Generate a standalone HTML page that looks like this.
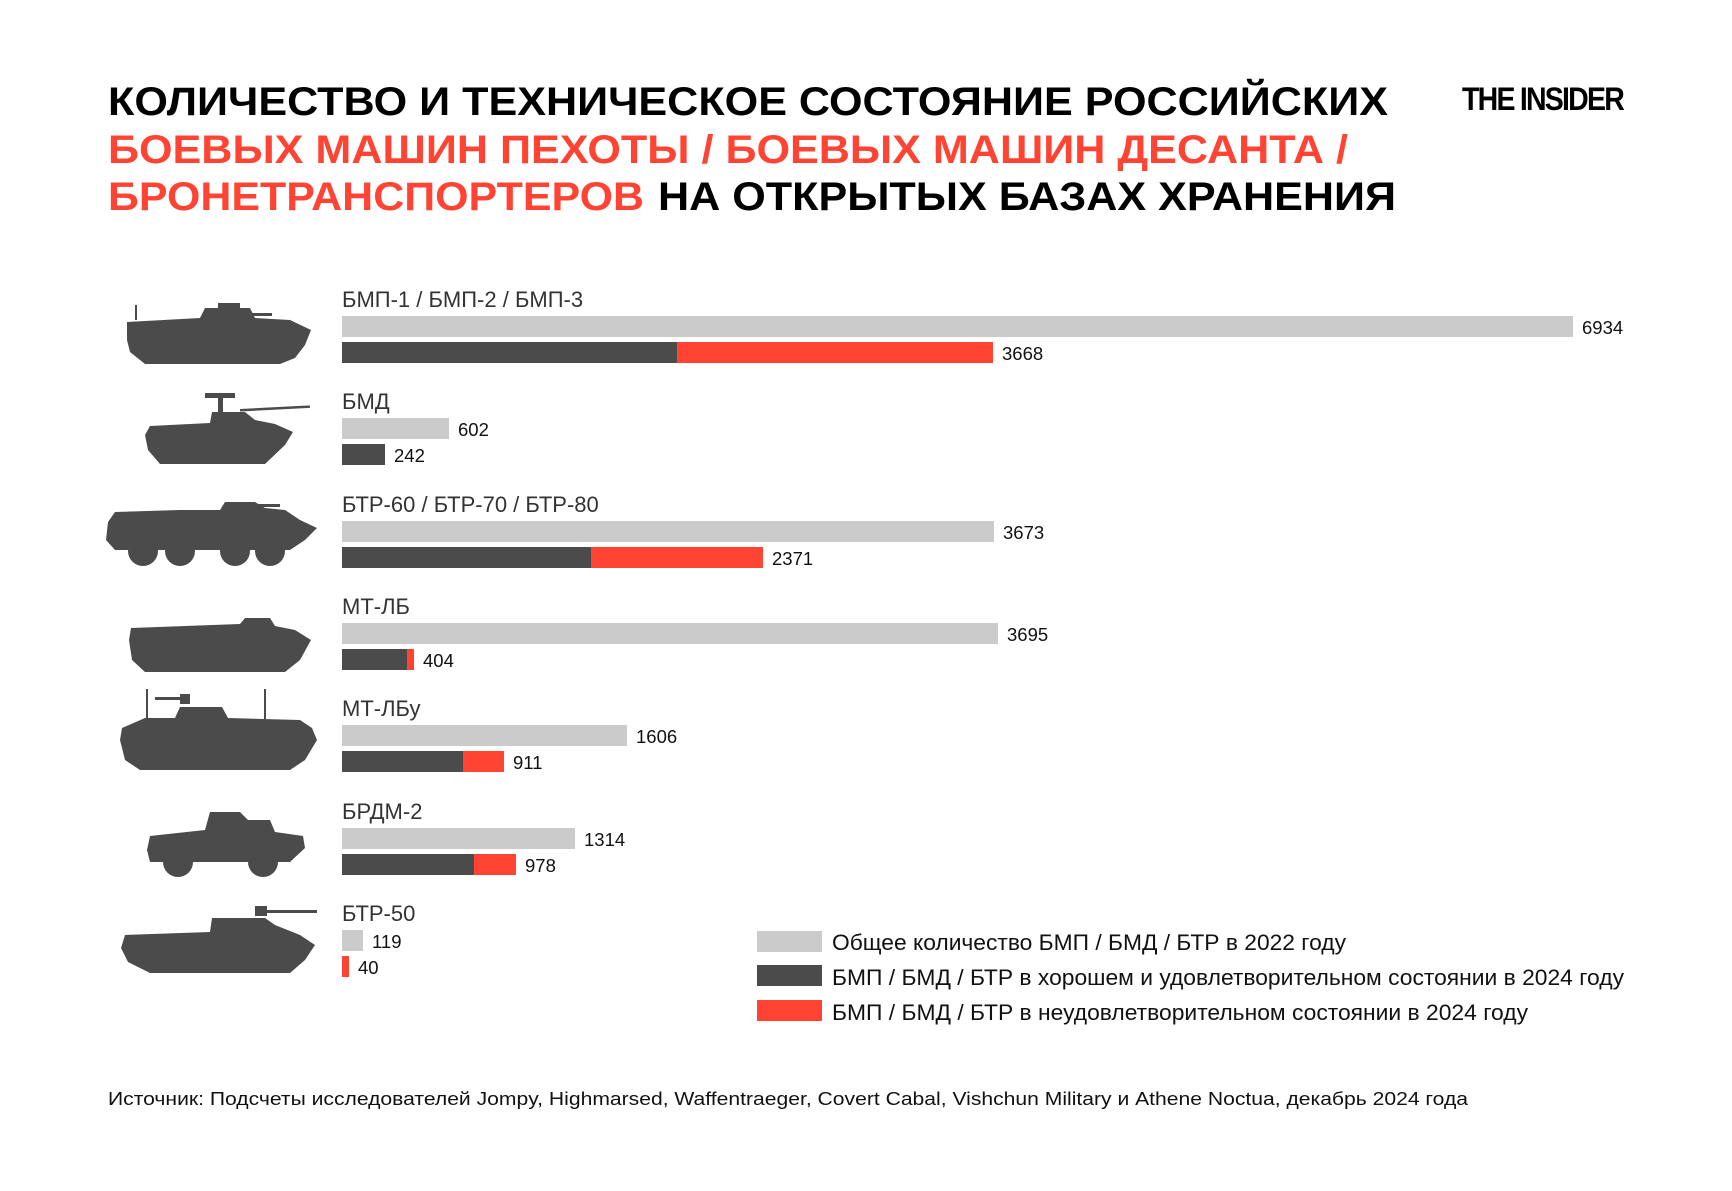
<!DOCTYPE html>
<html><head><meta charset="utf-8"><style>
html,body{margin:0;padding:0;background:#fff}
svg{display:block}
text{font-family:"Liberation Sans",Arial,sans-serif}
</style></head><body>
<svg width="1732" height="1191" viewBox="0 0 1732 1191" xmlns="http://www.w3.org/2000/svg">
<rect width="1732" height="1191" fill="#fff"/>
<g font-weight="bold" font-size="40">
<text x="108" y="115" fill="#000" textLength="1280" lengthAdjust="spacingAndGlyphs">КОЛИЧЕСТВО И ТЕХНИЧЕСКОЕ СОСТОЯНИЕ РОССИЙСКИХ</text>
<text x="108" y="163" fill="#ff4433" textLength="1240" lengthAdjust="spacingAndGlyphs">БОЕВЫХ МАШИН ПЕХОТЫ / БОЕВЫХ МАШИН ДЕСАНТА /</text>
<text x="108" y="210" fill="#ff4433" textLength="536" lengthAdjust="spacingAndGlyphs">БРОНЕТРАНСПОРТЕРОВ</text>
<text x="658" y="210" fill="#000" textLength="738" lengthAdjust="spacingAndGlyphs">НА ОТКРЫТЫХ БАЗАХ ХРАНЕНИЯ</text>
</g>
<text x="1462" y="110" font-weight="bold" font-size="32" fill="#000" textLength="161" lengthAdjust="spacingAndGlyphs" letter-spacing="-2">THE INSIDER</text>

<g fill="#4b4b4b">
<path d="M127 322 L200 318 L205 308 L250 308 L255 318 L290 320 L311 330 L305 345 L295 358 L280 364 L145 364 L130 352 L127 340 Z"/>
<rect x="230" y="313" width="42" height="3"/><rect x="218" y="303" width="22" height="6"/><rect x="135" y="305" width="2" height="15"/>
<path d="M150 426 L210 423 L212 412 L245 412 L255 420 L275 424 L293 432 L285 445 L265 464 L160 464 L148 450 L145 435 Z"/>
<rect x="240" y="409" width="70" height="2.5" transform="rotate(-3 240 410)"/><rect x="205" y="393" width="30" height="5"/><rect x="218" y="393" width="5" height="20"/>
<path d="M108 522 L115 512 L180 510 L220 510 L225 502 L255 502 L265 508 L285 510 L300 520 L317 528 L305 540 L290 550 L115 550 L106 540 Z"/>
<rect x="250" y="504" width="30" height="3"/>
<circle cx="143" cy="551" r="15"/><circle cx="180" cy="551" r="15"/><circle cx="235" cy="551" r="15"/><circle cx="270" cy="551" r="15"/>
<path d="M131 628 L240 624 L245 618 L270 618 L275 626 L295 630 L311 640 L300 660 L285 672 L145 672 L132 660 L129 640 Z"/>
<path d="M122 728 L145 718 L175 718 L180 707 L222 707 L228 718 L300 720 L312 728 L317 740 L305 760 L290 770 L140 770 L125 760 L120 740 Z"/>
<rect x="146" y="689" width="2" height="30"/><rect x="264" y="689" width="2" height="30"/><rect x="155" y="697" width="35" height="3"/><rect x="180" y="694" width="10" height="10"/>
<path d="M150 836 L205 830 L210 812 L240 812 L248 820 L270 820 L275 832 L303 836 L305 848 L290 862 L150 862 L147 850 Z"/>
<circle cx="178" cy="862" r="15"/><circle cx="263" cy="862" r="15"/>
<path d="M125 935 L210 932 L212 918 L265 918 L275 925 L300 935 L315 945 L305 960 L290 973 L150 973 L128 962 L121 948 Z"/>
<rect x="260" y="910" width="57" height="3"/><rect x="255" y="906" width="12" height="10"/>
</g>

<g font-size="22" fill="#333">
<text x="342" y="307">БМП-1 / БМП-2 / БМП-3</text>
<text x="342" y="409">БМД</text>
<text x="342" y="512">БТР-60 / БТР-70 / БТР-80</text>
<text x="342" y="614">МТ-ЛБ</text>
<text x="342" y="716">МТ-ЛБу</text>
<text x="342" y="819">БРДМ-2</text>
<text x="342" y="921">БТР-50</text>
</g>
<g>
<rect x="342" y="316" width="1231" height="21" fill="#cbcbcb"/>
<rect x="342" y="342" width="335" height="21" fill="#4b4b4b"/><rect x="677" y="342" width="316" height="21" fill="#ff4433"/>
<rect x="342" y="418" width="107" height="21" fill="#cbcbcb"/>
<rect x="342" y="444" width="43" height="21" fill="#4b4b4b"/>
<rect x="342" y="521" width="652" height="21" fill="#cbcbcb"/>
<rect x="342" y="547" width="249" height="21" fill="#4b4b4b"/><rect x="591" y="547" width="172" height="21" fill="#ff4433"/>
<rect x="342" y="623" width="656" height="21" fill="#cbcbcb"/>
<rect x="342" y="649" width="65" height="21" fill="#4b4b4b"/><rect x="407" y="649" width="7" height="21" fill="#ff4433"/>
<rect x="342" y="725" width="285" height="21" fill="#cbcbcb"/>
<rect x="342" y="751" width="121" height="21" fill="#4b4b4b"/><rect x="463" y="751" width="41" height="21" fill="#ff4433"/>
<rect x="342" y="828" width="233" height="21" fill="#cbcbcb"/>
<rect x="342" y="854" width="132" height="21" fill="#4b4b4b"/><rect x="474" y="854" width="42" height="21" fill="#ff4433"/>
<rect x="342" y="930" width="21" height="21" fill="#cbcbcb"/>
<rect x="342" y="956" width="7" height="21" fill="#ff4433"/>
</g>
<g font-size="18.5" fill="#111">
<text x="1582" y="334">6934</text><text x="1002" y="360">3668</text>
<text x="458" y="436">602</text><text x="394" y="462">242</text>
<text x="1003" y="539">3673</text><text x="772" y="565">2371</text>
<text x="1007" y="641">3695</text><text x="423" y="667">404</text>
<text x="636" y="743">1606</text><text x="513" y="769">911</text>
<text x="584" y="846">1314</text><text x="525" y="872">978</text>
<text x="372" y="948">119</text><text x="358" y="974">40</text>
</g>

<rect x="757" y="931" width="65" height="21" fill="#cbcbcb"/>
<rect x="757" y="965" width="65" height="21" fill="#4b4b4b"/>
<rect x="757" y="1000" width="65" height="21" fill="#ff4433"/>
<g font-size="22" fill="#111">
<text x="832" y="950" textLength="514" lengthAdjust="spacingAndGlyphs">Общее количество БМП / БМД / БТР в 2022 году</text>
<text x="832" y="985" textLength="792" lengthAdjust="spacingAndGlyphs">БМП / БМД / БТР в хорошем и удовлетворительном состоянии в 2024 году</text>
<text x="832" y="1020" textLength="696" lengthAdjust="spacingAndGlyphs">БМП / БМД / БТР в неудовлетворительном состоянии в 2024 году</text>
</g>
<text x="108" y="1105" font-size="18.5" fill="#111" textLength="1360" lengthAdjust="spacingAndGlyphs">Источник: Подсчеты исследователей Jompy, Highmarsed, Waffentraeger, Covert Cabal, Vishchun Military и Athene Noctua, декабрь 2024 года</text>
</svg>
</body></html>
